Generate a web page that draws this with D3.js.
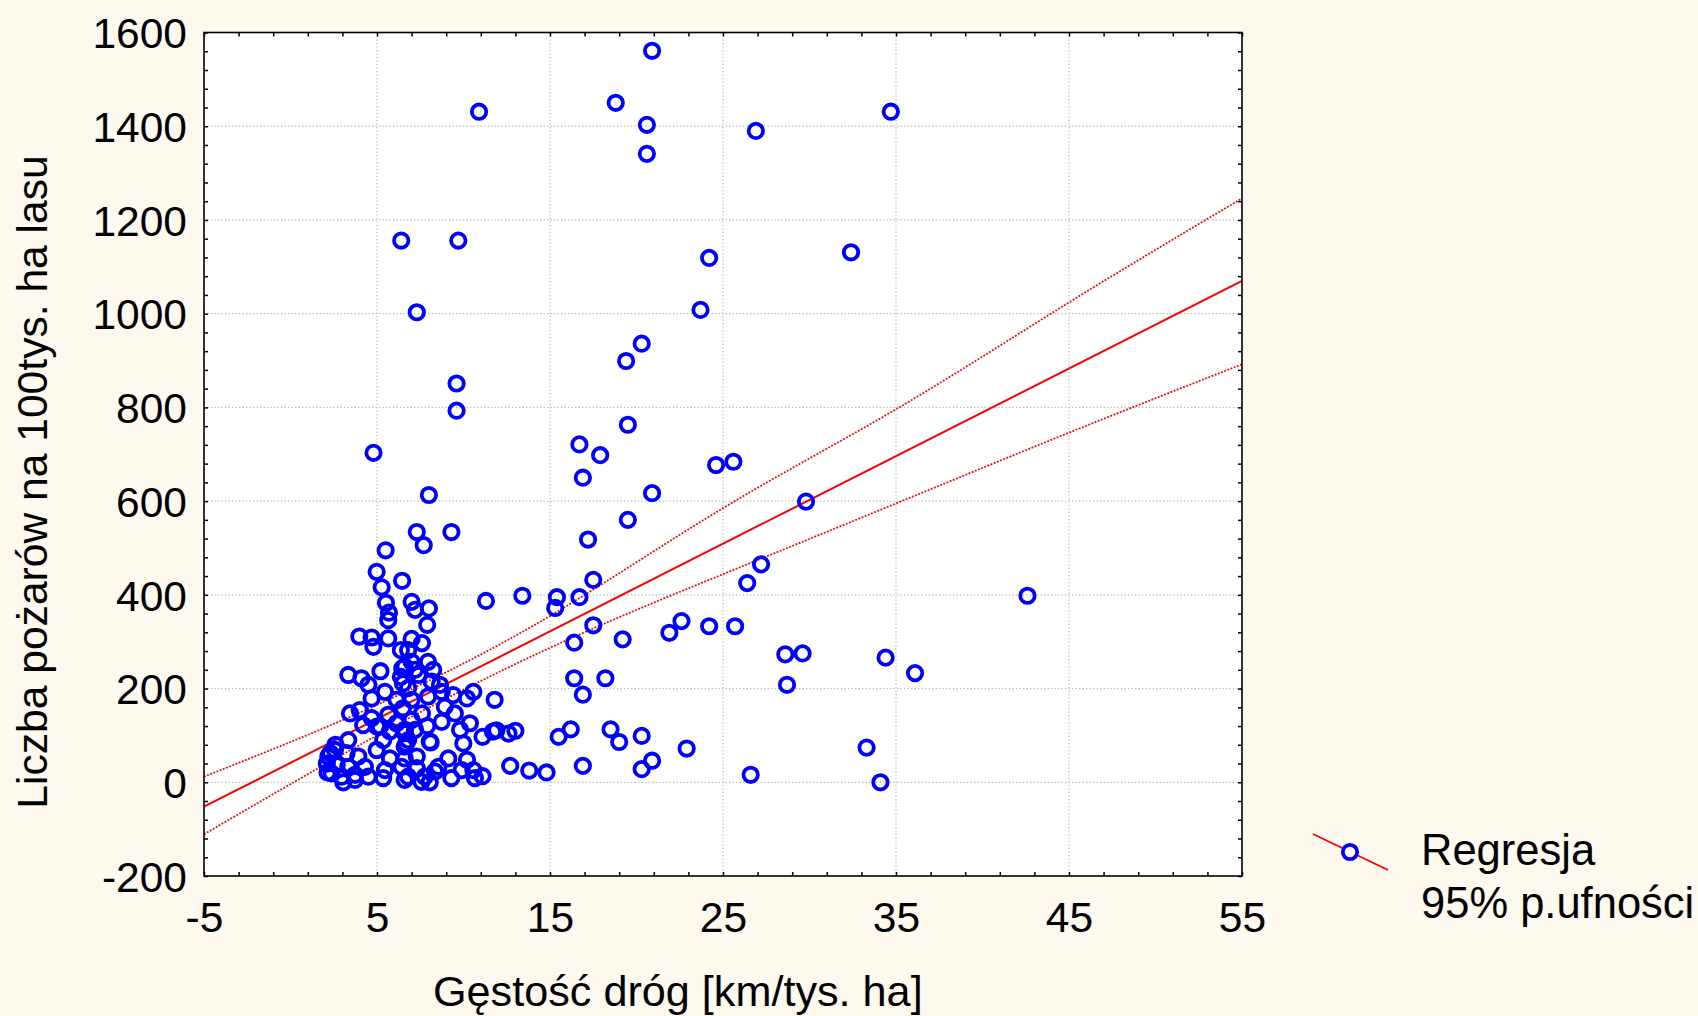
<!DOCTYPE html>
<html>
<head>
<meta charset="utf-8">
<script src="https://cdn.jsdelivr.net/npm/d3@7"></script>
<style>
    html, body { margin: 0; padding: 0; background: #fdf9ee; }
    svg { display: block; font-family: "Liberation Sans", Arial, sans-serif; }
</style>
</head>
<body>
<div id="chart"></div>
<script>
// road density [km / 1000 ha] vs fires per 100k ha forest
const sparsePoints = [
    [20.9, 1561], [10.9, 1431], [18.8, 1450], [20.6, 1403], [20.6, 1341], [26.9, 1390], [34.7, 1431],
    [6.4, 1156], [9.7, 1156], [24.2, 1119], [32.4, 1131], [7.3, 1003], [23.7, 1008], [20.3, 936], [19.4, 899],
    [9.6, 851], [9.6, 793], [19.5, 763], [4.8, 703], [16.7, 721], [17.9, 698], [16.9, 650], [24.6, 677], [25.6, 684],
    [20.9, 617], [8.0, 613], [29.8, 599], [19.5, 560], [7.3, 534], [9.3, 534], [7.7, 506], [5.5, 495], [17.2, 518],
    [27.2, 465], [17.5, 432], [26.4, 425], [11.3, 387], [13.4, 398], [15.4, 395], [15.3, 372], [16.7, 395], [42.6, 398],
    [17.5, 335], [22.6, 344], [24.2, 333], [25.7, 333], [21.9, 319], [16.4, 298], [19.2, 305], [28.6, 273], [29.6, 275],
    [34.4, 266], [36.1, 233], [16.4, 222], [18.2, 222], [16.9, 187], [28.7, 208], [11.8, 176], [15.5, 97], [16.2, 113],
    [18.5, 113], [19.0, 86], [20.3, 99], [22.9, 72], [20.9, 46], [16.9, 35], [20.3, 28], [33.3, 74], [26.6, 16], [34.1, 0],
    [12.7, 35], [13.8, 25], [14.8, 21], [12.6, 104], [13.0, 110]
];

const clusterPoints = [
    [4.98, 449], [5.27, 416], [6.45, 430], [5.52, 383], [7.0, 385], [5.69, 362], [5.65, 346], [3.98, 311], [4.69, 309],
    [4.79, 289], [5.65, 307], [6.38, 282], [7.0, 306], [5.2, 237], [6.46, 243], [3.34, 229], [4.1, 222],
    [7.2, 368], [8.0, 371], [7.9, 336], [7.6, 297], [6.8, 282], [7.95, 257], [7.0, 257], [6.6, 247], [7.2, 240], [8.25, 240],
    [6.38, 225], [6.5, 211], [4.69, 179], [5.46, 193], [6.13, 176], [6.8, 201], [3.44, 147], [4.0, 154], [4.69, 137],
    [5.65, 144], [6.5, 158], [4.2, 122], [5.17, 119], [6.13, 126], [6.6, 105], [3.34, 90], [2.57, 69], [2.19, 55],
    [3.24, 62], [3.92, 55], [4.98, 69], [5.36, 90], [5.75, 51], [6.6, 76], [2.67, 37], [3.34, 33], [4.3, 33], [5.46, 26],
    [6.42, 33], [2.96, 12], [3.73, 16], [4.5, 12], [5.36, 9], [3.05, 0], [2.37, 19], [6.6, 5],
    [7.4, 229], [8.16, 215], [8.74, 193], [9.4, 186], [10.57, 193], [10.2, 179], [7.0, 176], [7.95, 183], [8.92, 161],
    [9.5, 147], [7.0, 133], [7.6, 147], [8.74, 129], [9.8, 112], [10.37, 126], [11.1, 97], [11.7, 108], [7.2, 112],
    [8.05, 87], [6.8, 90], [9.99, 83], [9.12, 51], [7.3, 55], [10.2, 48], [6.6, 51], [8.55, 33], [7.3, 30], [9.9, 26],
    [10.57, 26], [11.1, 13], [9.3, 9], [7.76, 12], [6.8, 12], [8.05, 0],
    [8.64, 208], [5.0, 119], [5.75, 109], [6.62, 112], [8.1, 85], [6.68, 82], [11.9, 111], [3.73, 5], [7.57, 1],
    [8.35, 23], [10.66, 9], [2.14, 21], [2.3, 62], [2.6, 80], [2.1, 40], [4.5, 208], [7.9, 120]
];

// regression line and 95% confidence band
const fitX = [-5, 55];
const fitY = [-52, 1070];
const bandX = [-5, 5, 15, 25, 35, 45, 55];
const bandUpper = [12, 165, 355, 585, 796, 1024, 1246];
const bandLower = [-111, 100, 287, 444, 595, 746, 892];

const xTicks = [-5, 5, 15, 25, 35, 45, 55];
const yTicks = [-200, 0, 200, 400, 600, 800, 1000, 1200, 1400, 1600];
const legendLabels = ["Regresja", "95% p.ufności"];

const width = 1698;
const height = 1016;
const marginLeft = 204;
const marginRight = 1242;
const marginTop = 32.5;
const marginBottom = 876;
const tickFont = 42.5;

const x = d3.scaleLinear().domain([-5, 55]).range([marginLeft, marginRight]);
const y = d3.scaleLinear().domain([-200, 1600]).range([marginBottom, marginTop]);

const svg = d3.select("#chart").append("svg")
    .attr("width", width)
    .attr("height", height)
    .attr("viewBox", [0, 0, width, height]);

svg.append("rect")
    .attr("width", width).attr("height", height)
    .attr("fill", "#fdf9ee");

svg.append("rect")
    .attr("x", marginLeft).attr("y", marginTop)
    .attr("width", marginRight - marginLeft).attr("height", marginBottom - marginTop)
    .attr("fill", "#ffffff");

svg.append("clipPath").attr("id", "plot-clip")
    .append("rect")
    .attr("x", marginLeft).attr("y", marginTop)
    .attr("width", marginRight - marginLeft).attr("height", marginBottom - marginTop);

// dotted grid
const grid = svg.append("g")
    .attr("stroke", "#b8b8b8")
    .attr("stroke-width", 1.2)
    .attr("stroke-dasharray", "1.3,2.2");

grid.selectAll("line.vx")
    .data(xTicks.slice(1, -1))
    .join("line")
    .attr("x1", d => x(d)).attr("x2", d => x(d))
    .attr("y1", marginTop).attr("y2", marginBottom);

grid.selectAll("line.hy")
    .data(yTicks.slice(1, -1))
    .join("line")
    .attr("y1", d => y(d)).attr("y2", d => y(d))
    .attr("x1", marginLeft).attr("x2", marginRight);

// minor ticks pointing inward on all four sides
const xMinor = d3.range(-5, 55.01, 2);
const yMinor = d3.range(-200, 1600.1, 40);

function tickStyle(g) {
    g.select(".domain").remove();
    g.selectAll(".tick line").attr("stroke", "#000").attr("stroke-width", 1.5);
    g.selectAll(".tick text").remove();
}

svg.append("g")
    .attr("transform", `translate(0,${marginBottom})`)
    .call(d3.axisBottom(x).tickValues(xMinor).tickSize(-4))
    .call(tickStyle);
svg.append("g")
    .attr("transform", `translate(0,${marginTop})`)
    .call(d3.axisTop(x).tickValues(xMinor).tickSize(-4))
    .call(tickStyle);
svg.append("g")
    .attr("transform", `translate(${marginLeft},0)`)
    .call(d3.axisLeft(y).tickValues(yMinor).tickSize(-4))
    .call(tickStyle);
svg.append("g")
    .attr("transform", `translate(${marginRight},0)`)
    .call(d3.axisRight(y).tickValues(yMinor).tickSize(-4))
    .call(tickStyle);

// tick labels (plain hyphen for negatives, as in the original)
svg.append("g")
    .attr("transform", `translate(0,${marginBottom})`)
    .call(d3.axisBottom(x).tickValues(xTicks).tickSize(0).tickPadding(0).tickFormat(d => String(d)))
    .call(g => g.select(".domain").remove())
    .call(g => g.selectAll(".tick text")
        .attr("y", 56).attr("dy", null)
        .attr("fill", "#000")
        .attr("font-size", tickFont)
        .attr("font-family", "Liberation Sans, Arial, sans-serif"));

svg.append("g")
    .attr("transform", `translate(${marginLeft},0)`)
    .call(d3.axisLeft(y).tickValues(yTicks).tickSize(0).tickPadding(17).tickFormat(d => String(d)))
    .call(g => g.select(".domain").remove())
    .call(g => g.selectAll(".tick text")
        .attr("dy", "0.36em")
        .attr("fill", "#000")
        .attr("font-size", tickFont)
        .attr("font-family", "Liberation Sans, Arial, sans-serif"));

// regression + confidence band
const plot = svg.append("g").attr("clip-path", "url(#plot-clip)");

const bandLine = d3.line().curve(d3.curveNatural);

plot.append("path")
    .attr("d", bandLine(bandX.map((d, i) => [x(d), y(bandUpper[i])])))
    .attr("fill", "none").attr("stroke", "#ff0000")
    .attr("stroke-width", 1.8).attr("stroke-dasharray", "1.8,1.6");

plot.append("path")
    .attr("d", bandLine(bandX.map((d, i) => [x(d), y(bandLower[i])])))
    .attr("fill", "none").attr("stroke", "#ff0000")
    .attr("stroke-width", 1.8).attr("stroke-dasharray", "1.8,1.6");

plot.append("path")
    .attr("d", d3.line()(fitX.map((d, i) => [x(d), y(fitY[i])])))
    .attr("fill", "none").attr("stroke", "#ff0000")
    .attr("stroke-width", 2);

// points
const allPoints = sparsePoints.concat(clusterPoints);

plot.append("g")
    .selectAll("circle")
    .data(allPoints)
    .join("circle")
    .attr("cx", d => x(d[0]))
    .attr("cy", d => y(d[1]))
    .attr("r", 7.2)
    .attr("fill", "none")
    .attr("stroke", "#0000ff")
    .attr("stroke-width", 3.8);

// frame
svg.append("rect")
    .attr("x", marginLeft).attr("y", marginTop)
    .attr("width", marginRight - marginLeft).attr("height", marginBottom - marginTop)
    .attr("fill", "none").attr("stroke", "#000").attr("stroke-width", 1.6);

// axis titles
svg.append("text")
    .attr("x", 433).attr("y", 1006)
    .attr("font-size", 43.2)
    .attr("fill", "#000")
    .text("Gęstość dróg [km/tys. ha]");

svg.append("text")
    .attr("transform", "translate(47,482) rotate(-90)")
    .attr("text-anchor", "middle")
    .attr("font-size", 42.6)
    .attr("fill", "#000")
    .text("Liczba pożarów na 100tys. ha lasu");

// legend
const legend = svg.append("g");
legend.append("line")
    .attr("x1", 1313).attr("y1", 834).attr("x2", 1388).attr("y2", 870)
    .attr("stroke", "#ff0000").attr("stroke-width", 1.8);
legend.append("circle")
    .attr("cx", 1350).attr("cy", 852).attr("r", 7.2)
    .attr("fill", "#fdf9ee").attr("stroke", "#0000ff").attr("stroke-width", 3.8);
legend.selectAll("text")
    .data(legendLabels)
    .join("text")
    .attr("x", 1421)
    .attr("y", (d, i) => 865 + i * 53)
    .attr("font-size", 43.5)
    .attr("fill", "#000")
    .text(d => d);
</script>
</body>
</html>
